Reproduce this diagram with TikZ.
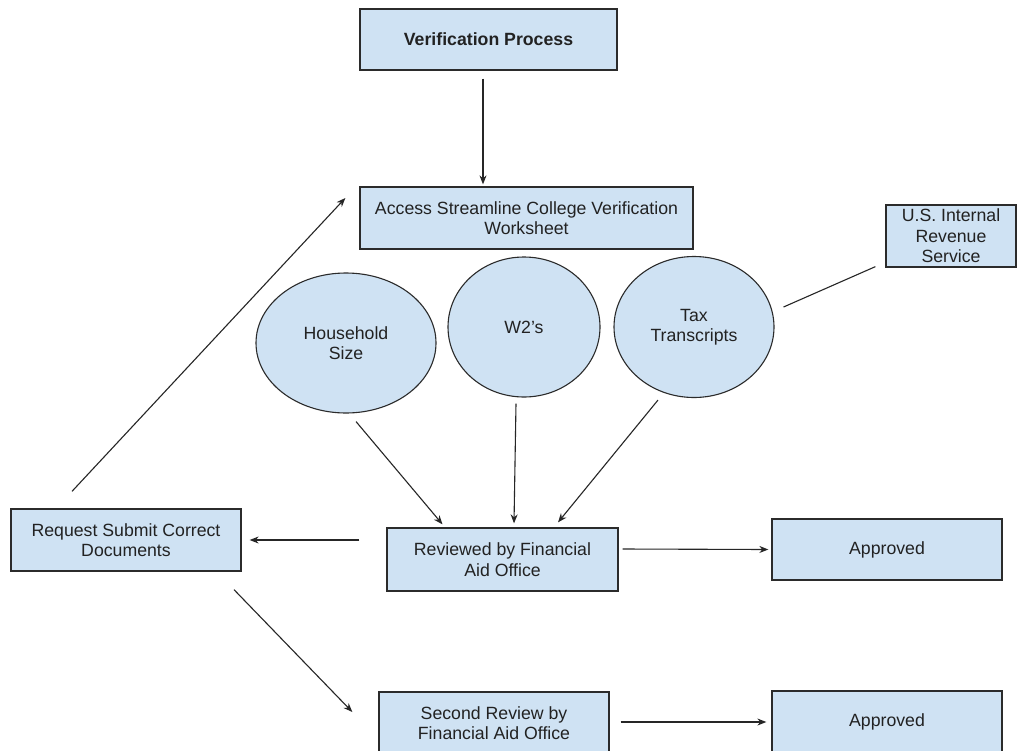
\documentclass[tikz,border=0pt]{standalone}
\usepackage{fontspec}
\setmainfont{Liberation Sans}
\usetikzlibrary{shapes.geometric,arrows.meta}
\definecolor{boxfill}{HTML}{CFE2F3}
\definecolor{boxline}{HTML}{2B2B2B}
\definecolor{txt}{HTML}{222222}
\begin{document}
\begin{tikzpicture}[x=1pt,y=-1pt,
  every node/.style={font=\fontsize{17.7}{20.5}\selectfont, text=txt, align=center, inner sep=0pt},
  box/.style={draw=boxline, fill=boxfill, line width=1.3pt, rectangle},
  oval/.style={draw=boxline, fill=boxfill, line width=1.1pt, ellipse},
  arr/.style={draw=black!85, line width=1.1pt, -{Stealth[length=9pt,width=7pt]}},
  link/.style={draw=black!85, line width=1.1pt}]
\useasboundingbox (0,0) rectangle (1020,750);
\fill[white] (0,0) rectangle (1020,750);

\node[box, minimum width=257, minimum height=61] (vp) at (488.5,39.5) {\textbf{Verification Process}};
\node[box, minimum width=333, minimum height=62] (acc) at (526.5,218) {Access Streamline College Verification\\Worksheet};
\node[box, minimum width=130, minimum height=62] (irs) at (951,236) {U.S. Internal\\Revenue\\Service};
\node[oval, minimum width=180, minimum height=140] (hh) at (346,343) {Household\\Size};
\node[oval, minimum width=152, minimum height=140] (w2) at (524,327) {W2’s};
\node[oval, minimum width=160, minimum height=141] (tax) at (694,327) {Tax\\Transcripts};
\node[box, minimum width=230, minimum height=62] (req) at (126,540) {Request Submit Correct\\Documents};
\node[box, minimum width=231, minimum height=63] (rev) at (502.5,559.5) {Reviewed by Financial\\Aid Office};
\node[box, minimum width=230, minimum height=61] (ap1) at (887,549.5) {Approved};
\node[box, minimum width=230, minimum height=62] (sec) at (494,723) {Second Review by\\Financial Aid Office};
\node[box, minimum width=230, minimum height=62] (ap2) at (887,722) {Approved};

\draw[arr] ([shift={(-5.5,8)}]vp.south) -- ([shift={(-43.5,-2)}]acc.north);
\draw[arr] ([shift={(-54,-17)}]req.north) -- ([shift={(-14,-20)}]acc.west);
\draw[link] ([shift={(9,-20)}]tax.east) -- ([shift={(-10,-1)}]irs.south west);
\draw[arr] ([shift={(10,8)}]hh.south) -- ([shift={(-60,-3)}]rev.north);
\draw[arr] ([shift={(-8,6)}]w2.south) -- ([shift={(11.5,-4)}]rev.north);
\draw[arr] ([shift={(-36,2)}]tax.south) -- ([shift={(55.5,-5)}]rev.north);
\draw[arr] ([shift={(-27,-19.5)}]rev.west) -- ([shift={(8,0)}]req.east);
\draw[arr] ([shift={(4,-10.5)}]rev.east) -- ([shift={(-3,0)}]ap1.west);
\draw[arr] ([shift={(108,18)}]req.south) -- ([shift={(-26,-11)}]sec.west);
\draw[arr] ([shift={(11,-1)}]sec.east) -- ([shift={(-5,0)}]ap2.west);
\end{tikzpicture}
\end{document}
